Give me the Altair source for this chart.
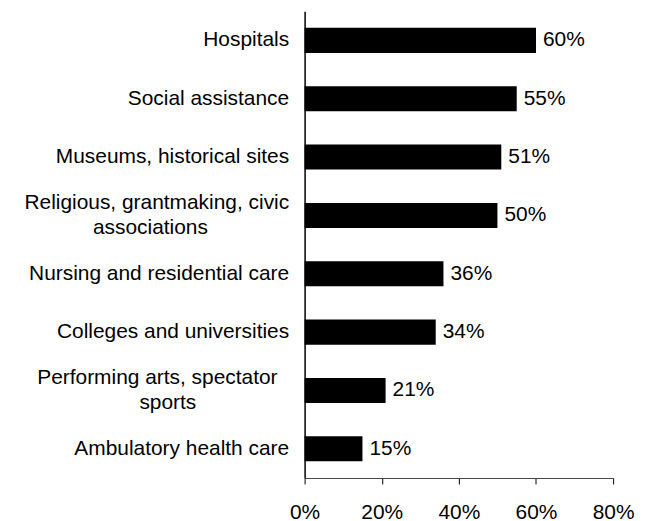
import altair as alt
import pandas as pd

NB = "\u00a0"
ZW = "\u200b"
categories = [
    "Hospitals",
    "Social assistance",
    "Museums, historical sites",
    "Religious, grantmaking, civic|associations" + NB * 14 + ZW,
    "Nursing and residential care",
    "Colleges and universities",
    "Performing arts, spectator" + NB * 2 + ZW + "|sports" + NB * 16 + ZW,
    "Ambulatory health care",
]
values = [60, 55, 51, 50, 36, 34, 21, 15]
tick_values = [0, 0.2, 0.4, 0.6, 0.8]

df = pd.DataFrame({"label": categories, "value": [v / 100 for v in values]})

FONT = "Liberation Sans"
FS = 21

y_enc = alt.Y(
    "label:N",
    sort=None,
    scale=alt.Scale(paddingInner=0.57, paddingOuter=0.285),
    axis=alt.Axis(
        title=None,
        ticks=False,
        labelExpr="split(datum.label, '|')",
        labelFont=FONT,
        labelFontSize=FS,
        labelColor="black",
        labelPadding=16,
        labelLimit=0,
        labelLineHeight=25,
        labelOffset={
            "condition": {"test": "indexof(datum.value, '|') >= 0", "value": -12.5},
            "value": 0,
        },
        domainColor="black",
        domainWidth=1.5,
    ),
)

base = alt.Chart(df).encode(y=y_enc)

bars = base.mark_bar(color="black").encode(
    x=alt.X(
        "value:Q",
        scale=alt.Scale(domain=[0, 0.8]),
        axis=alt.Axis(
            title=None,
            values=tick_values,
            format=".0%",
            grid=False,
            labelFont=FONT,
            labelFontSize=FS,
            labelColor="black",
            labelPadding=18,
            tickColor="black",
            tickSize=6,
            domainColor="#444",
            labelFlush=False,
        ),
    )
)

text = base.mark_text(
    align="left", baseline="middle", dx=7, fontSize=FS, font=FONT, color="black"
).encode(
    x="value:Q",
    text=alt.Text("value:Q", format=".0%"),
)

chart = (
    (bars + text)
    .properties(
        width=310,
        height=469,
        autosize=alt.AutoSizeParams(type="none"),
        padding={"left": 298, "top": 2, "right": 30, "bottom": 46},
        background="white",
    )
    .configure_view(stroke=None)
)

chart.save("out.html", embed_options={"renderer": "svg", "actions": False})
